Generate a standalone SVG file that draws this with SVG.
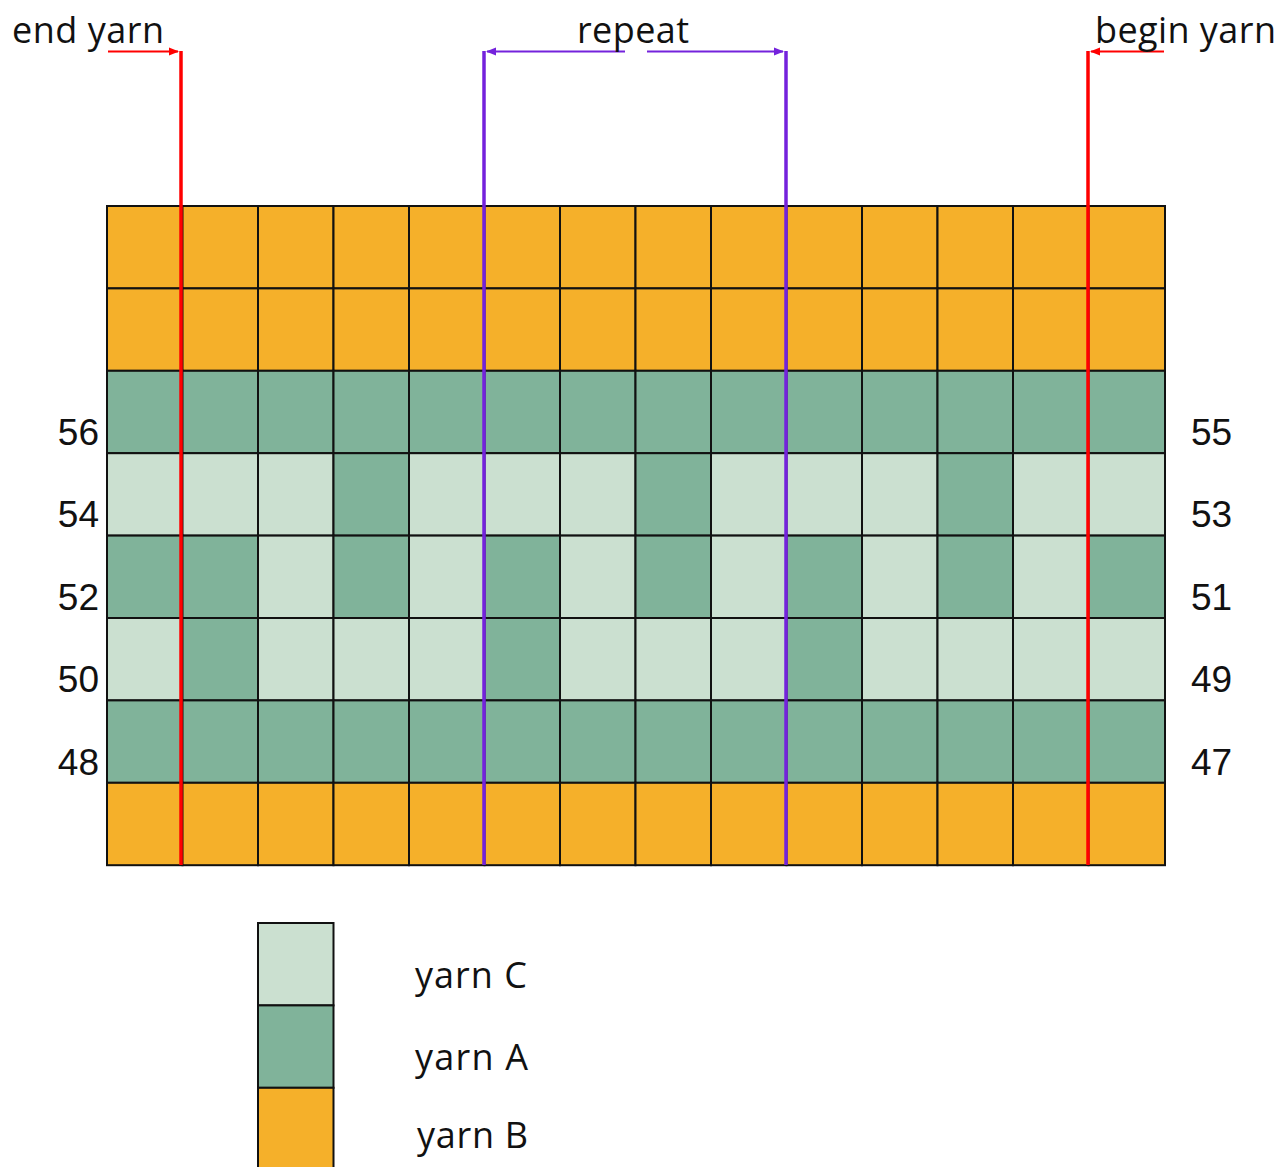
<svg xmlns="http://www.w3.org/2000/svg" width="1282" height="1167" viewBox="0 0 1282 1167">
<style>
.B{fill:#F5B02A;stroke:#111;stroke-width:2}
.A{fill:#80B39A;stroke:#111;stroke-width:2}
.C{fill:#CBE0D0;stroke:#111;stroke-width:2}
.lbl{font-family:"Open Sans","Noto Sans",sans-serif;font-size:36px;fill:#111}
.num{font-family:"Liberation Sans",Arial,sans-serif;font-size:37px;fill:#111}
.red{stroke:#FF0000;fill:none}
.pur{stroke:#7422DC;fill:none}
</style>
<defs>
<marker id="ar" viewBox="0 0 10 10" refX="9" refY="5" markerWidth="5" markerHeight="5" orient="auto"><path d="M0,1 L10,5 L0,9 z" fill="#FF0000"/></marker>
<marker id="ap" viewBox="0 0 10 10" refX="9" refY="5" markerWidth="5" markerHeight="5" orient="auto"><path d="M0,1 L10,5 L0,9 z" fill="#7422DC"/></marker>
</defs>
<rect width="1282" height="1167" fill="#fff"/>
<g id="grid">
<g id="row1">
<rect class="B" x="107" y="206" width="75.5" height="82.4"/><rect class="B" x="182.5" y="206" width="75.5" height="82.4"/><rect class="B" x="258" y="206" width="75.5" height="82.4"/><rect class="B" x="333.5" y="206" width="75.5" height="82.4"/><rect class="B" x="409" y="206" width="75.5" height="82.4"/><rect class="B" x="484.5" y="206" width="75.5" height="82.4"/><rect class="B" x="560" y="206" width="75.5" height="82.4"/><rect class="B" x="635.5" y="206" width="75.5" height="82.4"/><rect class="B" x="711" y="206" width="75.5" height="82.4"/><rect class="B" x="786.5" y="206" width="75.5" height="82.4"/><rect class="B" x="862" y="206" width="75.5" height="82.4"/><rect class="B" x="937.5" y="206" width="75.5" height="82.4"/><rect class="B" x="1013" y="206" width="75.5" height="82.4"/><rect class="B" x="1088.5" y="206" width="76.5" height="82.4"/>
</g>
<g id="row2">
<rect class="B" x="107" y="288.4" width="75.5" height="82.4"/><rect class="B" x="182.5" y="288.4" width="75.5" height="82.4"/><rect class="B" x="258" y="288.4" width="75.5" height="82.4"/><rect class="B" x="333.5" y="288.4" width="75.5" height="82.4"/><rect class="B" x="409" y="288.4" width="75.5" height="82.4"/><rect class="B" x="484.5" y="288.4" width="75.5" height="82.4"/><rect class="B" x="560" y="288.4" width="75.5" height="82.4"/><rect class="B" x="635.5" y="288.4" width="75.5" height="82.4"/><rect class="B" x="711" y="288.4" width="75.5" height="82.4"/><rect class="B" x="786.5" y="288.4" width="75.5" height="82.4"/><rect class="B" x="862" y="288.4" width="75.5" height="82.4"/><rect class="B" x="937.5" y="288.4" width="75.5" height="82.4"/><rect class="B" x="1013" y="288.4" width="75.5" height="82.4"/><rect class="B" x="1088.5" y="288.4" width="76.5" height="82.4"/>
</g>
<g id="row3">
<rect class="A" x="107" y="370.8" width="75.5" height="82.4"/><rect class="A" x="182.5" y="370.8" width="75.5" height="82.4"/><rect class="A" x="258" y="370.8" width="75.5" height="82.4"/><rect class="A" x="333.5" y="370.8" width="75.5" height="82.4"/><rect class="A" x="409" y="370.8" width="75.5" height="82.4"/><rect class="A" x="484.5" y="370.8" width="75.5" height="82.4"/><rect class="A" x="560" y="370.8" width="75.5" height="82.4"/><rect class="A" x="635.5" y="370.8" width="75.5" height="82.4"/><rect class="A" x="711" y="370.8" width="75.5" height="82.4"/><rect class="A" x="786.5" y="370.8" width="75.5" height="82.4"/><rect class="A" x="862" y="370.8" width="75.5" height="82.4"/><rect class="A" x="937.5" y="370.8" width="75.5" height="82.4"/><rect class="A" x="1013" y="370.8" width="75.5" height="82.4"/><rect class="A" x="1088.5" y="370.8" width="76.5" height="82.4"/>
</g>
<g id="row4">
<rect class="C" x="107" y="453.2" width="75.5" height="82.4"/><rect class="C" x="182.5" y="453.2" width="75.5" height="82.4"/><rect class="C" x="258" y="453.2" width="75.5" height="82.4"/><rect class="A" x="333.5" y="453.2" width="75.5" height="82.4"/><rect class="C" x="409" y="453.2" width="75.5" height="82.4"/><rect class="C" x="484.5" y="453.2" width="75.5" height="82.4"/><rect class="C" x="560" y="453.2" width="75.5" height="82.4"/><rect class="A" x="635.5" y="453.2" width="75.5" height="82.4"/><rect class="C" x="711" y="453.2" width="75.5" height="82.4"/><rect class="C" x="786.5" y="453.2" width="75.5" height="82.4"/><rect class="C" x="862" y="453.2" width="75.5" height="82.4"/><rect class="A" x="937.5" y="453.2" width="75.5" height="82.4"/><rect class="C" x="1013" y="453.2" width="75.5" height="82.4"/><rect class="C" x="1088.5" y="453.2" width="76.5" height="82.4"/>
</g>
<g id="row5">
<rect class="A" x="107" y="535.6" width="75.5" height="82.4"/><rect class="A" x="182.5" y="535.6" width="75.5" height="82.4"/><rect class="C" x="258" y="535.6" width="75.5" height="82.4"/><rect class="A" x="333.5" y="535.6" width="75.5" height="82.4"/><rect class="C" x="409" y="535.6" width="75.5" height="82.4"/><rect class="A" x="484.5" y="535.6" width="75.5" height="82.4"/><rect class="C" x="560" y="535.6" width="75.5" height="82.4"/><rect class="A" x="635.5" y="535.6" width="75.5" height="82.4"/><rect class="C" x="711" y="535.6" width="75.5" height="82.4"/><rect class="A" x="786.5" y="535.6" width="75.5" height="82.4"/><rect class="C" x="862" y="535.6" width="75.5" height="82.4"/><rect class="A" x="937.5" y="535.6" width="75.5" height="82.4"/><rect class="C" x="1013" y="535.6" width="75.5" height="82.4"/><rect class="A" x="1088.5" y="535.6" width="76.5" height="82.4"/>
</g>
<g id="row6">
<rect class="C" x="107" y="618" width="75.5" height="82.4"/><rect class="A" x="182.5" y="618" width="75.5" height="82.4"/><rect class="C" x="258" y="618" width="75.5" height="82.4"/><rect class="C" x="333.5" y="618" width="75.5" height="82.4"/><rect class="C" x="409" y="618" width="75.5" height="82.4"/><rect class="A" x="484.5" y="618" width="75.5" height="82.4"/><rect class="C" x="560" y="618" width="75.5" height="82.4"/><rect class="C" x="635.5" y="618" width="75.5" height="82.4"/><rect class="C" x="711" y="618" width="75.5" height="82.4"/><rect class="A" x="786.5" y="618" width="75.5" height="82.4"/><rect class="C" x="862" y="618" width="75.5" height="82.4"/><rect class="C" x="937.5" y="618" width="75.5" height="82.4"/><rect class="C" x="1013" y="618" width="75.5" height="82.4"/><rect class="C" x="1088.5" y="618" width="76.5" height="82.4"/>
</g>
<g id="row7">
<rect class="A" x="107" y="700.4" width="75.5" height="82.4"/><rect class="A" x="182.5" y="700.4" width="75.5" height="82.4"/><rect class="A" x="258" y="700.4" width="75.5" height="82.4"/><rect class="A" x="333.5" y="700.4" width="75.5" height="82.4"/><rect class="A" x="409" y="700.4" width="75.5" height="82.4"/><rect class="A" x="484.5" y="700.4" width="75.5" height="82.4"/><rect class="A" x="560" y="700.4" width="75.5" height="82.4"/><rect class="A" x="635.5" y="700.4" width="75.5" height="82.4"/><rect class="A" x="711" y="700.4" width="75.5" height="82.4"/><rect class="A" x="786.5" y="700.4" width="75.5" height="82.4"/><rect class="A" x="862" y="700.4" width="75.5" height="82.4"/><rect class="A" x="937.5" y="700.4" width="75.5" height="82.4"/><rect class="A" x="1013" y="700.4" width="75.5" height="82.4"/><rect class="A" x="1088.5" y="700.4" width="76.5" height="82.4"/>
</g>
<g id="row8">
<rect class="B" x="107" y="782.8" width="75.5" height="82.4"/><rect class="B" x="182.5" y="782.8" width="75.5" height="82.4"/><rect class="B" x="258" y="782.8" width="75.5" height="82.4"/><rect class="B" x="333.5" y="782.8" width="75.5" height="82.4"/><rect class="B" x="409" y="782.8" width="75.5" height="82.4"/><rect class="B" x="484.5" y="782.8" width="75.5" height="82.4"/><rect class="B" x="560" y="782.8" width="75.5" height="82.4"/><rect class="B" x="635.5" y="782.8" width="75.5" height="82.4"/><rect class="B" x="711" y="782.8" width="75.5" height="82.4"/><rect class="B" x="786.5" y="782.8" width="75.5" height="82.4"/><rect class="B" x="862" y="782.8" width="75.5" height="82.4"/><rect class="B" x="937.5" y="782.8" width="75.5" height="82.4"/><rect class="B" x="1013" y="782.8" width="75.5" height="82.4"/><rect class="B" x="1088.5" y="782.8" width="76.5" height="82.4"/>
</g>
</g>
<g id="row-numbers">
<text class="num" x="99" y="445" text-anchor="end">56</text>
<text class="num" x="99" y="527" text-anchor="end">54</text>
<text class="num" x="99" y="610" text-anchor="end">52</text>
<text class="num" x="99" y="692" text-anchor="end">50</text>
<text class="num" x="99" y="775" text-anchor="end">48</text>
<text class="num" x="1191" y="445">55</text>
<text class="num" x="1191" y="527">53</text>
<text class="num" x="1191" y="610">51</text>
<text class="num" x="1191" y="692">49</text>
<text class="num" x="1191" y="775">47</text>
</g>
<g id="connectors">
<line class="red" x1="181" y1="51" x2="181" y2="865" stroke-width="3.5"/>
<line class="red" x1="1088" y1="51" x2="1088" y2="865" stroke-width="3.5"/>
<line class="pur" x1="484" y1="51" x2="484" y2="865" stroke-width="3.5"/>
<line class="pur" x1="786" y1="51" x2="786" y2="865" stroke-width="3.5"/>
<line class="red" x1="108" y1="51.5" x2="178" y2="51.5" stroke-width="2" marker-end="url(#ar)"/>
<line class="red" x1="1164" y1="51.5" x2="1091" y2="51.5" stroke-width="2" marker-end="url(#ar)"/>
<line class="pur" x1="625" y1="51.5" x2="487" y2="51.5" stroke-width="2" marker-end="url(#ap)"/>
<line class="pur" x1="647" y1="51.5" x2="783" y2="51.5" stroke-width="2" marker-end="url(#ap)"/>
</g>
<g id="labels">
<text class="lbl" x="12" y="43" textLength="152">end yarn</text>
<text class="lbl" x="577" y="43" textLength="112">repeat</text>
<text class="lbl" x="1095" y="43" textLength="181">begin yarn</text>
</g>
<g id="legend">
<rect class="C" x="258" y="923" width="75.5" height="82.4"/>
<rect class="A" x="258" y="1005.4" width="75.5" height="82.4"/>
<rect class="B" x="258" y="1087.8" width="75.5" height="82.4"/>
<text class="lbl" x="415" y="988" textLength="112">yarn C</text>
<text class="lbl" x="415" y="1070" textLength="113">yarn A</text>
<text class="lbl" x="417" y="1148" textLength="111">yarn B</text>
</g>
</svg>
